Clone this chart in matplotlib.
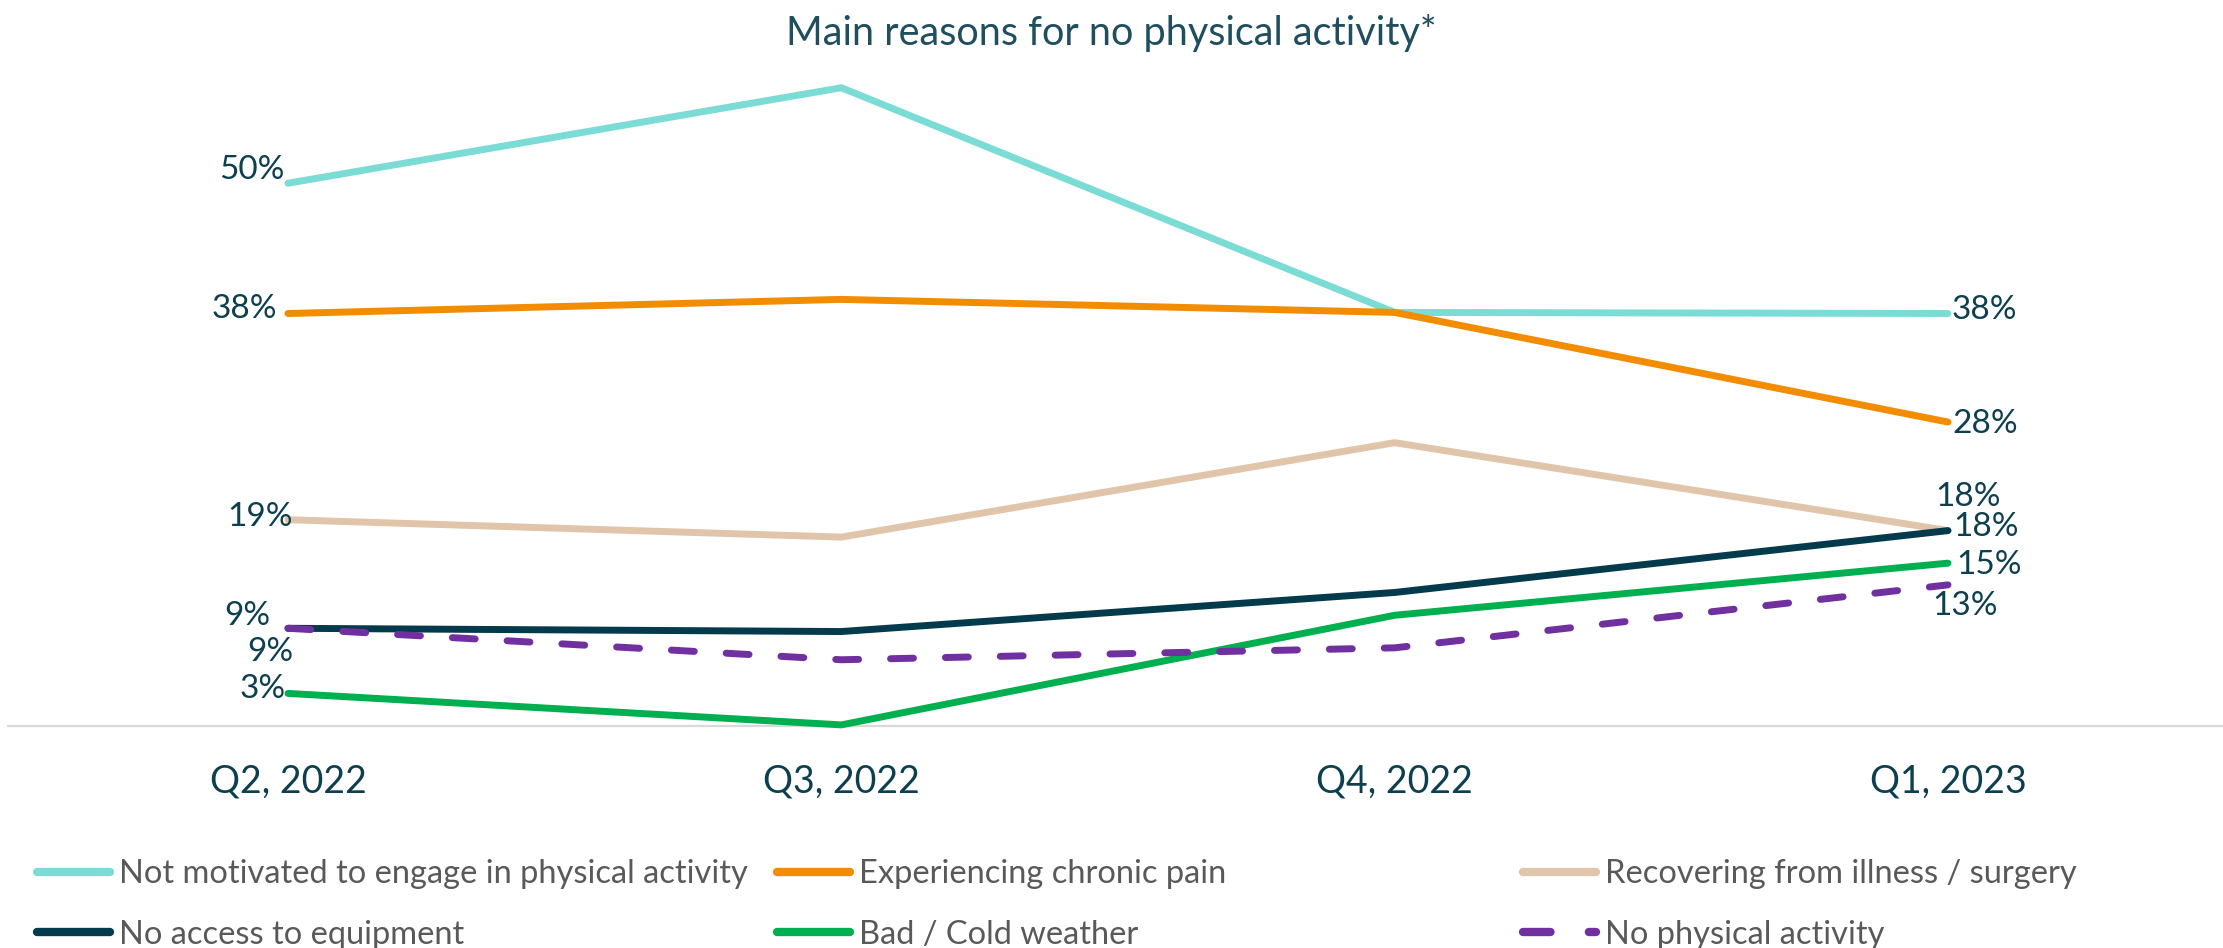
import matplotlib
matplotlib.use("Agg")
import matplotlib.pyplot as plt

# quarters on the x axis
quarters = ["Q2, 2022", "Q3, 2022", "Q4, 2022", "Q1, 2023"]

# share of respondents (%) per reason
not_motivated = [50, 58.8, 38.1, 38]
chronic_pain = [38, 39.3, 38.1, 28]
recovering = [19, 17.4, 26.1, 18]
no_equipment = [9, 8.7, 12.3, 18]
bad_weather = [3, 0.1, 10.2, 15]
no_activity = [9, 6.1, 7.2, 13]

names = [
    "Not motivated to engage in physical activity",
    "Experiencing chronic pain",
    "Recovering from illness / surgery",
    "No access to equipment",
    "Bad / Cold weather",
    "No physical activity",
]
series = [not_motivated, chronic_pain, recovering, no_equipment, bad_weather, no_activity]
colors = ["#7BDCD5", "#F28C00", "#E0C5AB", "#033A4C", "#00B050", "#7030A0"]

LABEL_COLOR = "#0D3F4F"
FONT = ["Lato", "DejaVu Sans"]
plt.rcParams["font.family"] = FONT

fig = plt.figure(figsize=(22.23, 9.48), dpi=100)
ax = fig.add_axes([0.0036, 0.2342, 0.9964, 0.7099])

x = list(range(len(quarters)))
handles = []
for vals, name, c in zip(series, names, colors):
    if name == "No physical activity":
        ln, = ax.plot(x, vals, color=c, lw=5, dashes=(3.3, 4.6),
                      dash_capstyle="round", clip_on=False, label=name, zorder=3)
    else:
        ln, = ax.plot(x, vals, color=c, lw=5, solid_capstyle="round",
                      solid_joinstyle="miter", clip_on=False, label=name, zorder=3)
    handles.append(ln)

# value labels at first and last quarter: (series index, pixel offset)
first_offsets = {0: (-3, 13), 1: (-11, 5), 2: (5, 3), 3: (-18, 12), 4: (-2, 4), 5: (5, -24)}
last_offsets = {0: (4, 4), 1: (4, -2), 2: (-13, 34), 3: (5, 4), 4: (8, -2), 5: (-16, -21)}
for i, vals in enumerate(series):
    dx, dy = first_offsets[i]
    ax.annotate(f"{vals[0]:.0f}%", (x[0], vals[0]), xytext=(dx, dy),
                textcoords="offset pixels", ha="right", va="center",
                fontsize=24, color=LABEL_COLOR, zorder=4)
    dx, dy = last_offsets[i]
    ax.annotate(f"{vals[-1]:.0f}%", (x[-1], vals[-1]), xytext=(dx, dy),
                textcoords="offset pixels", ha="left", va="center",
                fontsize=24, color=LABEL_COLOR, zorder=4)

ax.set_xlim(-0.506, 3.497)
ax.set_ylim(0, 62)
ax.set_yticks([])
ax.set_xticks(x)
ax.set_xticklabels(quarters, fontsize=27, color=LABEL_COLOR)
ax.tick_params(axis="x", length=0, pad=27)
for side in ["top", "left", "right"]:
    ax.spines[side].set_visible(False)
ax.spines["bottom"].set_color("#D9D9D9")
ax.spines["bottom"].set_linewidth(1.6)
ax.spines["bottom"].set_zorder(1)

fig.text(0.5, 0.965, "Main reasons for no physical activity*", ha="center",
         va="center", fontsize=28.5, color="#1F4E5F")

# legend: three equal-width columns, two rows each
col_x = [37 / 2223, 777 / 2223, 1523 / 2223]
for col in range(3):
    hs = [handles[col], handles[col + 3]]
    leg = fig.legend(hs, [h.get_label() for h in hs], loc="center left",
                     bbox_to_anchor=(col_x[col], 1 - 904.5 / 948), frameon=False,
                     fontsize=23.5, handlelength=2.25, handletextpad=0.25,
                     labelspacing=0.93, borderpad=0, borderaxespad=0)
    for t in leg.get_texts():
        t.set_color("#595959")
    for ln in leg.get_lines():
        ln.set_linewidth(6)

fig.savefig("out.png", dpi=100)
